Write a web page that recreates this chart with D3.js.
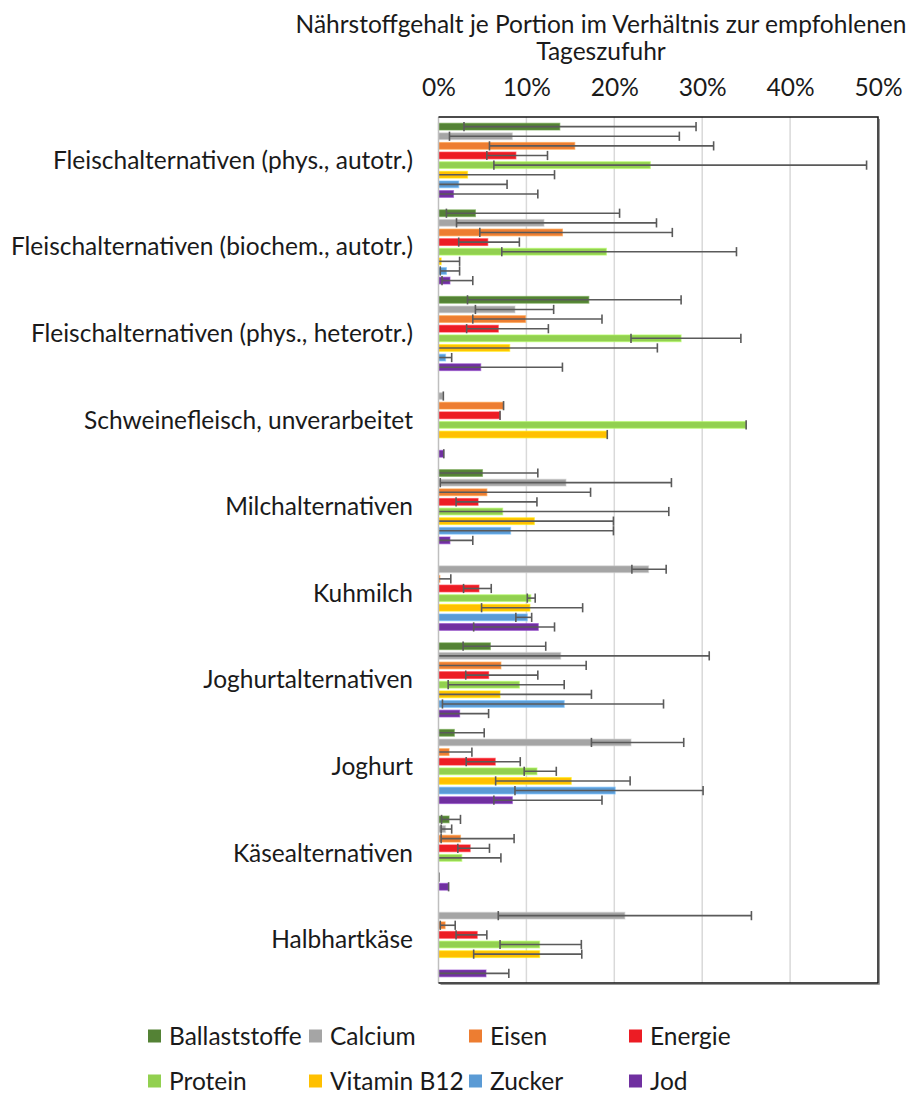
<!DOCTYPE html>
<html>
<head>
<meta charset="utf-8">
<script src="https://cdn.jsdelivr.net/npm/d3@7"></script>
<style>
  html, body { margin: 0; padding: 0; background: #fff; }
  svg text { font-family: Lato, "Open Sans", sans-serif; fill: #1a1a1a; }
</style>
</head>
<body>
<svg id="chart" width="911" height="1095"></svg>
<script>
// Produktgruppen (von oben nach unten)
const categories = [
  "Fleischalternativen (phys., autotr.)",
  "Fleischalternativen (biochem., autotr.)",
  "Fleischalternativen (phys., heterotr.)",
  "Schweinefleisch, unverarbeitet",
  "Milchalternativen",
  "Kuhmilch",
  "Joghurtalternativen",
  "Joghurt",
  "Käsealternativen",
  "Halbhartkäse"
];

const seriesNames = ["Ballaststoffe", "Calcium", "Eisen", "Energie", "Protein", "Vitamin B12", "Zucker", "Jod"];
const seriesColors = ["#548235", "#a5a5a5", "#ed7d31", "#ec1c24", "#92d050", "#ffc000", "#5b9bd5", "#7030a0"];

// Mittelwerte in % der empfohlenen Tageszufuhr je Portion (null = kein Wert)
const ballaststoffe    = [13.8, 4.2, 17.1, null, 5.0, null, 5.9, 1.8, 1.2, null];
const ballaststoffeMin = [2.9, 0.9, 3.3, null, 0, null, 2.8, 0, 0.35, null];
const ballaststoffeMax = [29.3, 20.6, 27.6, null, 11.3, null, 12.2, 5.2, 2.5, null];

const calcium    = [8.4, 12.0, 8.7, 0.5, 14.5, 23.9, 13.9, 21.9, 0.8, 21.2];
const calciumMin = [1.25, 2.05, 4.2, 0.55, 0.2, 22.0, 0, 17.4, 0.3, 6.8];
const calciumMax = [27.4, 24.8, 13.1, 0.55, 26.5, 25.9, 30.8, 27.9, 1.5, 35.6];

const eisen    = [15.5, 14.1, 9.9, 7.4, 5.5, 0.15, 7.1, 1.2, 2.5, 0.75];
const eisenMin = [5.8, 4.7, 3.9, 7.4, 0, 0, 0, 0, 0.3, 0.2];
const eisenMax = [31.3, 26.6, 18.6, 7.4, 17.3, 1.4, 16.8, 3.8, 8.6, 1.9];

const energie    = [8.8, 5.6, 6.8, 7.0, 4.5, 4.6, 5.7, 6.45, 3.6, 4.4];
const energieMin = [5.5, 2.3, 3.2, 7.0, 2.0, 2.85, 3.1, 3.15, 2.2, 2.0];
const energieMax = [12.4, 9.2, 12.5, 7.0, 11.2, 6.0, 11.3, 9.3, 5.8, 5.5];

const protein    = [24.1, 19.1, 27.6, 35.0, 7.3, 10.5, 9.2, 11.2, 2.65, 11.5];
const proteinMin = [6.3, 7.2, 21.9, 35.0, 0, 10.1, 1.1, 9.75, 0, 7.0];
const proteinMax = [48.7, 33.9, 34.4, 35.0, 26.2, 11.0, 14.3, 13.4, 7.1, 16.25];

const vitaminB12    = [3.3, 0.3, 8.1, 19.2, 10.9, 10.4, 7.0, 15.1, null, 11.5];
const vitaminB12Min = [0, 0, 0, 19.2, 0, 4.9, 0, 6.5, null, 4.0];
const vitaminB12Max = [13.2, 2.4, 24.9, 19.2, 19.9, 16.4, 17.4, 21.8, null, 16.3];

const zucker    = [2.3, 0.9, 0.8, null, 8.2, 10.1, 14.3, 20.1, 0, null];
const zuckerMin = [0, 0.2, 0, null, 0, 8.8, 0.45, 8.7, 0, null];
const zuckerMax = [7.8, 2.4, 1.5, null, 19.9, 10.6, 25.6, 30.1, 0.05, null];

const jod    = [1.7, 1.3, 4.8, 0.6, 1.3, 11.35, 2.4, 8.4, 1.1, 5.4];
const jodMin = [0, 0.4, 0, 0.6, 0, 4.0, 0, 6.3, 1.15, 0];
const jodMax = [11.3, 3.9, 14.1, 0.6, 3.9, 13.2, 5.7, 18.6, 1.15, 8.0];

const xTicks = [0, 10, 20, 30, 40, 50];
const titleLines = ["Nährstoffgehalt je Portion im Verhältnis zur empfohlenen", "Tageszufuhr"];

const seriesValues = [ballaststoffe, calcium, eisen, energie, protein, vitaminB12, zucker, jod];
const seriesMin = [ballaststoffeMin, calciumMin, eisenMin, energieMin, proteinMin, vitaminB12Min, zuckerMin, jodMin];
const seriesMax = [ballaststoffeMax, calciumMax, eisenMax, energieMax, proteinMax, vitaminB12Max, zuckerMax, jodMax];

const FS = 24.5;

// Zeilen für die Balken
const rows = [];
categories.forEach((cat, ci) => {
  seriesNames.forEach((s, si) => {
    const v = seriesValues[si][ci];
    if (v === null) return;
    rows.push({ cat, series: s, color: seriesColors[si], value: v,
                lo: seriesMin[si][ci], hi: seriesMax[si][ci] });
  });
});

const svg = d3.select("#chart");
const plot = { left: 438.5, right: 878, top: 117, bottom: 983 };

const x = d3.scaleLinear().domain([0, 50]).range([plot.left, plot.right]);
const y0 = d3.scaleBand().domain(categories).range([plot.top, plot.bottom]).padding(0);
const y1 = d3.scaleBand().domain(seriesNames).range([0, y0.bandwidth()])
  .paddingInner(0.3).paddingOuter(0.65);

// Titel
svg.append("g").selectAll("text").data(titleLines).join("text")
  .attr("x", 601).attr("y", (d, i) => 33 + i * 27)
  .attr("text-anchor", "middle").attr("font-size", FS)
  .text(d => d);

// Gitternetzlinien
svg.append("g").selectAll("line").data(xTicks.filter(t => t > 0 && t < 50)).join("line")
  .attr("x1", d => x(d)).attr("x2", d => x(d))
  .attr("y1", plot.top).attr("y2", plot.bottom)
  .attr("stroke", "#d9d9d9").attr("stroke-width", 1.5);

// Obere Achse
const xAxis = d3.axisTop(x).tickValues(xTicks).tickFormat(d => d + "%").tickSize(0).tickPadding(0);
const ax = svg.append("g").attr("transform", `translate(0, 96)`).call(xAxis);
ax.select(".domain").remove();
ax.selectAll("text").attr("font-size", FS).attr("font-family", "Lato, sans-serif").attr("fill", "#1a1a1a");

// Balken
const bars = svg.append("g");
bars.selectAll("rect").data(rows).join("rect")
  .attr("x", x(0))
  .attr("y", d => y0(d.cat) + y1(d.series))
  .attr("width", d => Math.max(0, x(d.value) - x(0)))
  .attr("height", y1.bandwidth())
  .attr("fill", d => d.color)
  .attr("stroke", d => d3.color(d.color).brighter(0.6))
  .attr("stroke-opacity", 0.55)
  .attr("stroke-width", 1.2);

// Fehlerbalken (Minimum – Maximum)
const err = svg.append("g").attr("stroke", "#5a5a5a").attr("stroke-width", 1.6);
const cy = d => y0(d.cat) + y1(d.series) + y1.bandwidth() / 2;
const capH = 4.6;
rows.forEach(d => {
  const lo = d.lo === null ? 0 : d.lo;
  if (d.hi > lo) {
    err.append("line").attr("x1", x(lo)).attr("x2", x(d.hi)).attr("y1", cy(d)).attr("y2", cy(d));
  }
  err.append("line").attr("x1", x(d.hi)).attr("x2", x(d.hi))
    .attr("y1", cy(d) - capH).attr("y2", cy(d) + capH);
  if (lo > 0 && lo < d.hi) {
    err.append("line").attr("x1", x(lo)).attr("x2", x(lo))
      .attr("y1", cy(d) - capH).attr("y2", cy(d) + capH);
  }
});

// Rahmen des Diagrammbereichs
svg.append("line").attr("x1", plot.left).attr("x2", plot.left)
  .attr("y1", plot.top).attr("y2", plot.bottom)
  .attr("stroke", "#bfbfbf").attr("stroke-width", 1.5);
svg.append("path")
  .attr("d", `M${plot.left},${plot.top}H${plot.right}V${plot.bottom}H${plot.left}`)
  .attr("fill", "none").attr("stroke", "#111").attr("stroke-width", 1.5);
svg.append("path")
  .attr("d", `M${plot.right + 1.5},${plot.top + 2}V${plot.bottom + 1.5}H${plot.left + 2}`)
  .attr("fill", "none").attr("stroke", "#9a9a9a").attr("stroke-width", 1);

// Kategorienbeschriftung
svg.append("g").selectAll("text").data(categories).join("text")
  .attr("x", 413)
  .attr("y", d => y0(d) + y0.bandwidth() / 2)
  .attr("dy", "0.35em")
  .attr("text-anchor", "end")
  .attr("font-size", FS)
  .text(d => d);

// Legende
const legendX = [148, 309, 469, 629];
const legendY = [1036, 1081];
const legend = svg.append("g").selectAll("g").data(seriesNames).join("g")
  .attr("transform", (d, i) => `translate(${legendX[i % 4]}, ${legendY[Math.floor(i / 4)]})`);
legend.append("rect").attr("x", 0).attr("y", -6.5).attr("width", 13).attr("height", 13)
  .attr("fill", (d, i) => seriesColors[i]);
legend.append("text").attr("x", 21).attr("y", 0).attr("dy", "0.36em")
  .attr("font-size", FS).text(d => d);
</script>
</body>
</html>
